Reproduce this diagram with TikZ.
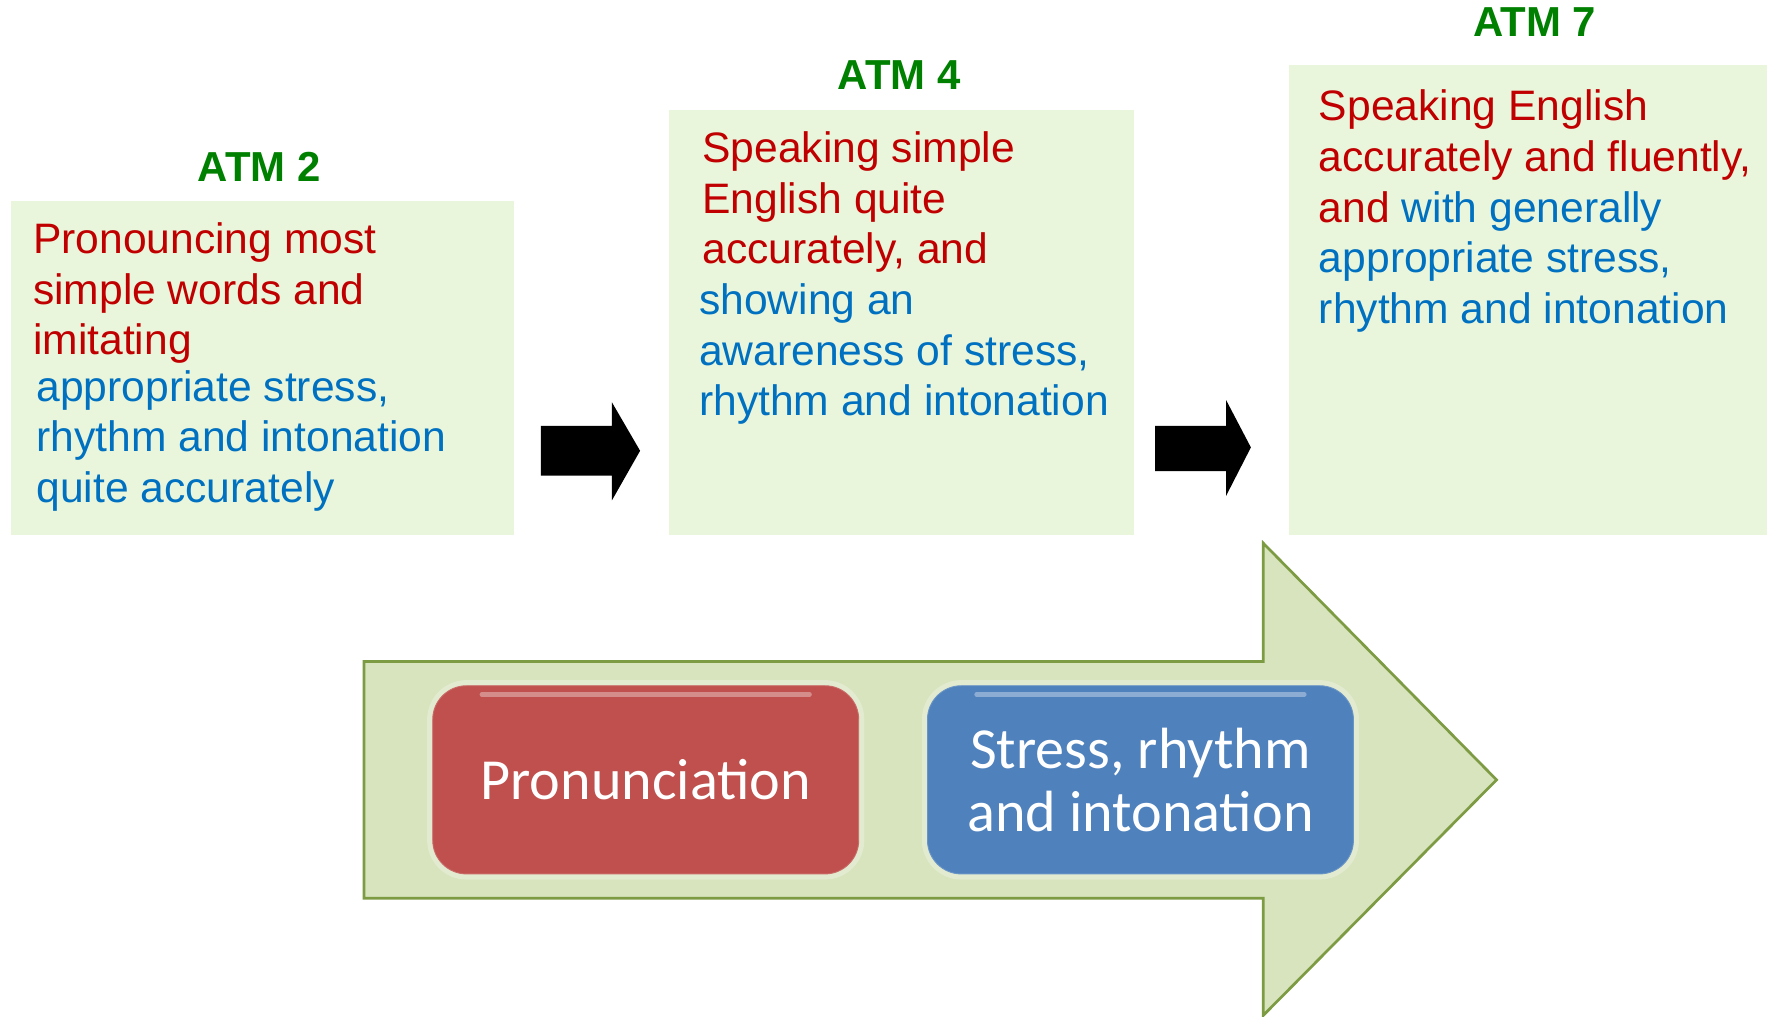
\documentclass[tikz,border=0pt]{standalone}
\usepackage{fontspec}
\setmainfont{Liberation Sans}
\newfontfamily\skillfont{Carlito}
\usetikzlibrary{positioning}

\definecolor{atmgreen}{HTML}{008000}
\definecolor{lvlred}{HTML}{C00000}
\definecolor{lvlblue}{HTML}{0070C0}
\definecolor{boxfill}{HTML}{EAF6DB}
\definecolor{arrowfill}{HTML}{D7E4BD}
\definecolor{arrowline}{HTML}{7D9B43}
\definecolor{glow}{HTML}{E2EBCF}
\definecolor{pronred}{HTML}{C0504D}
\definecolor{srblue}{HTML}{4F81BD}

\tikzset{
  level/.style={fill=boxfill, inner sep=0pt, anchor=north west},
  atm/.style={text=atmgreen, font=\bfseries\fontsize{18.6}{22}\selectfont},
  redtxt/.style={text=lvlred, align=left, inner sep=0pt, anchor=base west,
    font=\fontsize{18.9}{22.5}\selectfont},
  bluetxt/.style={redtxt, text=lvlblue},
  blockarrow/.style={fill=black},
  skill/.style={rectangle, rounded corners=15pt, minimum width=189pt,
    minimum height=83.5pt, align=center, text=white,
    font=\skillfont\fontsize{25.8}{28}\selectfont,
    preaction={draw=glow, line width=5pt}},
}

\begin{document}
\begin{tikzpicture}[x=0.5pt, y=-0.5pt]
\useasboundingbox (0,0) rectangle (1568,902);

% three attainment levels (text nodes sit on their last baseline)
\node (box2) at (9,178) [level, minimum width=223.5pt, minimum height=148pt] {};
\node (atm2) at (230,148) [atm] {ATM 2};
\node (red2) at (29,315) [redtxt] {Pronouncing most\\simple words and\\imitating};
\node (blue2) at (32,446) [bluetxt] {appropriate stress,\\rhythm and intonation\\quite accurately};

\node (box4) at (593,97) [level, minimum width=206.5pt, minimum height=188.5pt] {};
\node (atm4) at (798,67) [atm] {ATM 4};
\node (red4) at (623,234) [redtxt] {Speaking simple\\English quite\\accurately, and};
\node (blue4) at (620,369) [bluetxt] {showing an\\awareness of stress,\\rhythm and intonation};

\node (box7) at (1143,57) [level, minimum width=212.5pt, minimum height=208.5pt] {};
\node (atm7) at (1362,20) [atm] {ATM 7};
\node (txt7) at (1170,287) [redtxt] {Speaking English\\accurately and fluently,\\and \textcolor{lvlblue}{with generally}\\
  \textcolor{lvlblue}{appropriate stress,}\\\textcolor{lvlblue}{rhythm and intonation}};

% black arrows between the levels
\fill[blockarrow] (480,378) -- (543,378) -- (543,357) -- (568,400) -- (543,444)
  -- (543,422) -- (480,422) -- cycle;
\fill[blockarrow] (1025,378) -- (1088,378) -- (1088,355) -- (1110,397) -- (1088,440)
  -- (1088,418) -- (1025,418) -- cycle;

% big progress arrow
\draw[fill=arrowfill, draw=arrowline, line width=1.2pt] (323,587) -- (1121,587)
  -- (1121,482) -- (1328,692) -- (1121,901) -- (1121,797) -- (323,797) -- cycle;

\node (pron) at (573,692) [skill, fill=pronred, draw=pronred!85!white] {Pronunciation};
\node (srit) at (1012,692) [skill, fill=srblue, draw=srblue!85!white] {Stress, rhythm\\and intonation};

% glossy highlights
\draw[white, opacity=0.35, line width=2pt, line cap=round]
  ([xshift=22pt, yshift=-4pt]pron.north west) -- ([xshift=-22pt, yshift=-4pt]pron.north east);
\draw[white, opacity=0.35, line width=2pt, line cap=round]
  ([xshift=22pt, yshift=-4pt]srit.north west) -- ([xshift=-22pt, yshift=-4pt]srit.north east);
\end{tikzpicture}
\end{document}
